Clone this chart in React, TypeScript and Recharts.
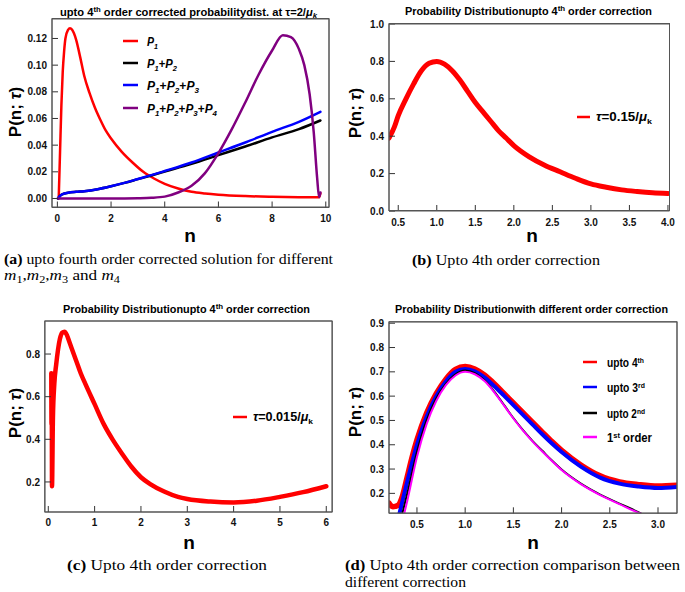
import React from 'react';
import { LineChart, Line, XAxis, YAxis } from 'recharts';

const SANS = "'Liberation Sans', Arial, Helvetica, sans-serif";
const SERIF = "'Liberation Serif', 'Times New Roman', serif";
const FRAME = '#555555';
const TICK = '#333333';
const MAJ = 6;
const MIN = 3;

// ---------- Panel (a): tau = 2/mu_k ----------
const aP1: [number, number][] = [[0.05,0],[0.1,0.035],[0.15,0.07],[0.2,0.095],[0.25,0.11],[0.3,0.12],[0.4,0.1265],[0.47,0.1277],[0.55,0.1265],[0.7,0.119],[0.85,0.106],[1.0,0.092],[1.2,0.079],[1.4,0.068],[1.6,0.059],[1.8,0.051],[2.0,0.045],[2.4,0.035],[2.8,0.027],[3.2,0.02],[3.6,0.015],[4.0,0.011],[4.5,0.0075],[5.0,0.005],[5.5,0.0037],[6.0,0.0028],[7.0,0.0018],[8.0,0.0013],[9.0,0.001],[9.75,0.0009],[9.8,0.004]];
const aP12: [number, number][] = [[0.02,0],[0.1,0.002],[0.2,0.0033],[0.4,0.0043],[0.7,0.005],[1.0,0.0055],[1.5,0.007],[2.0,0.0092],[2.5,0.0117],[3.0,0.0145],[3.5,0.0173],[4.0,0.0202],[5.0,0.026],[6.0,0.0325],[7.0,0.039],[8.0,0.0458],[9.0,0.052],[9.8,0.0585]];
const aP123: [number, number][] = [[0.02,0],[0.1,0.002],[0.2,0.0033],[0.4,0.0043],[0.7,0.005],[1.0,0.0055],[1.5,0.007],[2.0,0.0092],[2.5,0.0117],[3.0,0.0146],[3.5,0.0175],[4.0,0.0206],[5.0,0.027],[6.0,0.0345],[7.0,0.042],[8.0,0.05],[9.0,0.0575],[9.8,0.065]];
const aP1234: [number, number][] = [[0.02,0],[1.0,0],[2.0,0],[3.0,0.0002],[3.5,0.0005],[4.0,0.0014],[4.5,0.0045],[5.0,0.0095],[5.5,0.019],[6.0,0.034],[6.5,0.052],[7.0,0.072],[7.5,0.093],[8.0,0.111],[8.4,0.1225],[8.7,0.121],[9.0,0.112],[9.2,0.1],[9.4,0.078],[9.55,0.05],[9.68,0.015],[9.75,0.001],[9.8,0.0045]];

// ---------- Panel (b): tau = 0.15/mu_k ----------
const bP: [number, number][] = [[0.38,0.39],[0.45,0.45],[0.5,0.51],[0.6,0.6],[0.7,0.68],[0.8,0.75],[0.9,0.79],[1.0,0.8],[1.1,0.785],[1.2,0.75],[1.3,0.7],[1.4,0.64],[1.5,0.58],[1.6,0.53],[1.7,0.48],[1.8,0.43],[1.9,0.39],[2.0,0.35],[2.2,0.29],[2.4,0.245],[2.6,0.21],[2.8,0.175],[3.0,0.145],[3.2,0.127],[3.4,0.113],[3.6,0.104],[3.8,0.097],[4.0,0.093]];

// ---------- Panel (c): tau = 0.015/mu_k ----------
const cP: [number, number][] = [[0.065,0.71],[0.07,0.47],[0.075,0.62],[0.08,0.18],[0.1,0.5],[0.13,0.66],[0.17,0.75],[0.21,0.82],[0.25,0.87],[0.3,0.9],[0.35,0.905],[0.4,0.89],[0.45,0.86],[0.5,0.83],[0.6,0.77],[0.7,0.71],[0.8,0.66],[1.0,0.565],[1.2,0.47],[1.4,0.395],[1.6,0.33],[1.8,0.27],[2.0,0.222],[2.2,0.19],[2.5,0.155],[2.8,0.13],[3.0,0.12],[3.5,0.108],[4.0,0.104],[4.5,0.112],[5.0,0.13],[5.5,0.152],[6.0,0.18]];

// ---------- Panel (d): different orders ----------
const d4: [number, number][] = [[0.21,0.16],[0.25,0.145],[0.3,0.15],[0.35,0.19],[0.4,0.27],[0.45,0.35],[0.5,0.42],[0.6,0.53],[0.7,0.61],[0.8,0.67],[0.9,0.71],[1.0,0.722],[1.1,0.712],[1.2,0.687],[1.3,0.652],[1.4,0.612],[1.5,0.572],[1.6,0.532],[1.7,0.492],[1.8,0.452],[1.9,0.413],[2.0,0.377],[2.2,0.317],[2.4,0.272],[2.6,0.247],[2.8,0.236],[3.0,0.23],[3.2,0.233]];
const d3: [number, number][] = [[0.32,0.12],[0.4,0.25],[0.5,0.4],[0.6,0.515],[0.7,0.6],[0.8,0.66],[0.9,0.7],[1.0,0.712],[1.1,0.702],[1.2,0.677],[1.3,0.642],[1.4,0.603],[1.5,0.563],[1.6,0.523],[1.7,0.483],[1.8,0.443],[1.9,0.405],[2.0,0.37],[2.2,0.31],[2.4,0.265],[2.6,0.24],[2.8,0.228],[3.0,0.222],[3.2,0.226]];
const d2: [number, number][] = [[0.35,0.12],[0.4,0.2],[0.5,0.37],[0.6,0.5],[0.7,0.59],[0.8,0.65],[0.9,0.69],[1.0,0.705],[1.1,0.695],[1.2,0.665],[1.3,0.62],[1.4,0.565],[1.5,0.51],[1.6,0.46],[1.7,0.415],[1.8,0.375],[1.9,0.335],[2.0,0.298],[2.2,0.24],[2.4,0.195],[2.6,0.158],[2.8,0.122],[2.82,0.118]];
const d1: [number, number][] = [[0.37,0.12],[0.4,0.17],[0.5,0.35],[0.6,0.485],[0.7,0.58],[0.8,0.645],[0.9,0.685],[1.0,0.7],[1.1,0.69],[1.2,0.662],[1.3,0.617],[1.4,0.563],[1.5,0.508],[1.6,0.458],[1.7,0.413],[1.8,0.372],[1.9,0.333],[2.0,0.296],[2.2,0.238],[2.4,0.193],[2.6,0.156],[2.8,0.12],[2.82,0.117]];

// ---------- tick labels ----------
const aXTicks = [0, 2, 4, 6, 8, 10];
const aYTicks = [0, 0.02, 0.04, 0.06, 0.08, 0.1, 0.12];
const bXTicks = [0.5, 1.0, 1.5, 2.0, 2.5, 3.0, 3.5, 4.0];
const bYTicks = [0, 0.2, 0.4, 0.6, 0.8, 1.0];
const cXTicks = [0, 1, 2, 3, 4, 5, 6];
const cYTicks = [0.2, 0.4, 0.6, 0.8];
const dXTicks = [0.5, 1.0, 1.5, 2.0, 2.5, 3.0];
const dYTicks = [0.2, 0.3, 0.4, 0.5, 0.6, 0.7, 0.8, 0.9];

const toPts = (arr: [number, number][]) => arr.map(([x, y]) => ({ x, y }));

function steps(lo: number, hi: number, s: number): number[] {
  const out: number[] = [];
  const start = Math.ceil(lo / s - 1e-9);
  const end = Math.floor(hi / s + 1e-9);
  for (let i = start; i <= end; i++) out.push(+(i * s).toFixed(6));
  return out;
}

type Series = { data: [number, number][]; color: string; width: number };

type PanelProps = {
  box: [number, number, number, number];
  xDomain: [number, number];
  yDomain: [number, number];
  xMajor: number[];
  yMajor: number[];
  xMinor: number;
  yMinor: number;
  xDec: number;
  yDec: number;
  series: Series[];
};

const isMajor = (majors: number[], v: number) => majors.some((m) => Math.abs(m - v) < 1e-7);

// Major ticks drawn by Recharts' tickLine (negative size = inward); labels compensate for the inward offset.
function makeLabel(side: 'bottom' | 'left', dec: number) {
  return (props: any) => {
    const { x, y, payload } = props;
    const v = payload.value;
    if (side === 'bottom') {
      return (
        <text x={x} y={y + MAJ + 14.5} textAnchor="middle" fontFamily={SANS} fontWeight="bold" fontSize={10} fill="#111">
          {v.toFixed(dec)}
        </text>
      );
    }
    return (
      <text x={x - MAJ - 5} y={y + 3.6} textAnchor="end" fontFamily={SANS} fontWeight="bold" fontSize={10} fill="#111">
        {v.toFixed(dec)}
      </text>
    );
  };
}

function Panel(p: PanelProps) {
  const YW = 50, XH = 25, MT = 6, MR = 6, MB = 4, TH = 1, RW = 1;
  const [x0, y0, x1, y1] = p.box;
  const width = x1 - x0 + YW + MR + RW;
  const height = y1 - y0 + MT + TH + XH + MB;
  const xMinorTicks = steps(p.xDomain[0], p.xDomain[1], p.xMinor).filter((v) => !isMajor(p.xMajor, v));
  const yMinorTicks = steps(p.yDomain[0], p.yDomain[1], p.yMinor).filter((v) => !isMajor(p.yMajor, v));
  const axisLine = { stroke: FRAME, strokeWidth: 1 };
  const tl = { stroke: TICK, strokeWidth: 1 };
  const common = { type: 'number' as const, allowDataOverflow: true, interval: 0 as const, tickMargin: 0 };
  return (
    <div style={{ position: 'absolute', left: x0 - YW, top: y0 - MT - TH }}>
      <LineChart width={width} height={height} margin={{ top: MT, right: MR, bottom: MB, left: 0 }}>
        <XAxis xAxisId="b" orientation="bottom" dataKey="x" domain={p.xDomain} {...common}
          ticks={p.xMajor} tickSize={-MAJ} tickLine={tl} axisLine={axisLine}
          height={XH} tick={makeLabel('bottom', p.xDec)} />
        <YAxis yAxisId="l" orientation="left" domain={p.yDomain} {...common}
          ticks={p.yMajor} tickSize={-MAJ} tickLine={tl} axisLine={axisLine}
          width={YW} tick={makeLabel('left', p.yDec)} />
        <XAxis xAxisId="t" orientation="top" dataKey="x" domain={p.xDomain} {...common}
          ticks={p.xMajor} tickSize={-MAJ} tickLine={tl} axisLine={axisLine}
          height={TH} tick={false} />
        <YAxis yAxisId="r" orientation="right" domain={p.yDomain} {...common}
          ticks={p.yMajor} tickSize={-MAJ} tickLine={tl} axisLine={axisLine}
          width={RW} tick={false} />
        {p.series.map((s, i) => (
          <Line key={i} xAxisId="b" yAxisId="l" data={toPts(s.data)} dataKey="y" type="monotone"
            stroke={s.color} strokeWidth={s.width} dot={false} activeDot={false} isAnimationActive={false}
            strokeLinejoin="round" strokeLinecap="round" />
        ))}
      </LineChart>
      {/* minor ticks: a second chart with the same geometry */}
      <div style={{ position: 'absolute', left: 0, top: 0 }}>
        <LineChart width={width} height={height} margin={{ top: MT, right: MR, bottom: MB, left: 0 }}>
          <XAxis xAxisId="b" orientation="bottom" dataKey="x" domain={p.xDomain} {...common}
            ticks={xMinorTicks} tickSize={-MIN} tickLine={tl} axisLine={false} height={XH} tick={false} />
          <YAxis yAxisId="l" orientation="left" domain={p.yDomain} {...common}
            ticks={yMinorTicks} tickSize={-MIN} tickLine={tl} axisLine={false} width={YW} tick={false} />
          <XAxis xAxisId="t" orientation="top" dataKey="x" domain={p.xDomain} {...common}
            ticks={xMinorTicks} tickSize={-MIN} tickLine={tl} axisLine={false} height={TH} tick={false} />
          <YAxis yAxisId="r" orientation="right" domain={p.yDomain} {...common}
            ticks={yMinorTicks} tickSize={-MIN} tickLine={tl} axisLine={false} width={RW} tick={false} />
          <Line xAxisId="b" yAxisId="l" data={[]} dataKey="y" stroke="none" dot={false} isAnimationActive={false} />
        </LineChart>
      </div>
    </div>
  );
}

const B = { fontFamily: SANS, fontWeight: 'bold' as const };

const BOXES: [number, number, number, number][] = [
  [52, 18.5, 329, 207],
  [389, 23.5, 669.5, 210.5],
  [44.7, 321, 332, 512],
  [389, 321.7, 677, 513],
];

function Overlay() {
  return (
    <svg width={685} height={592} style={{ position: 'absolute', left: 0, top: 0, pointerEvents: 'none' }}>
      {/* frames */}
      {BOXES.map(([x0, y0, x1, y1], i) => (
        <rect key={'fr' + i} x={x0} y={y0} width={x1 - x0} height={y1 - y0} fill="none" stroke={FRAME} strokeWidth={1} />
      ))}
      {/* titles */}
      <text x={188.5} y={16} textAnchor="middle" fontSize={11.5} textLength={257} lengthAdjust="spacingAndGlyphs" {...B}>
        upto 4<tspan dy={-4} fontSize={8}>th</tspan><tspan dy={4}> order corrected probabilitydist. at τ=2/</tspan><tspan fontStyle="italic">μ</tspan><tspan dy={2} fontSize={8} fontStyle="italic">k</tspan>
      </text>
      <text x={528.5} y={15} textAnchor="middle" fontSize={11} textLength={247} lengthAdjust="spacingAndGlyphs" {...B}>
        Probability Distributionupto 4<tspan dy={-4} fontSize={8}>th</tspan><tspan dy={4}>  order correction</tspan>
      </text>
      <text x={186.5} y={313} textAnchor="middle" fontSize={11} textLength={247} lengthAdjust="spacingAndGlyphs" {...B}>
        Probability Distributionupto 4<tspan dy={-4} fontSize={8}>th</tspan><tspan dy={4}> order correction</tspan>
      </text>
      <text x={531.5} y={313} textAnchor="middle" fontSize={11} textLength={273} lengthAdjust="spacingAndGlyphs" {...B}>
        Probability Distributionwith different order correction
      </text>

      {/* y labels */}
      {[[21, 112], [361, 113], [21, 413], [361, 412]].map(([x, y], i) => (
        <text key={'yl' + i} x={x} y={y} transform={`rotate(-90 ${x} ${y})`} textAnchor="middle" fontSize={17} {...B}>
          P(n; <tspan fontStyle="italic">τ</tspan>)
        </text>
      ))}
      {/* x labels */}
      {[[190, 242], [532, 242], [189, 549], [533, 549]].map(([x, y], i) => (
        <text key={'xl' + i} x={x} y={y} textAnchor="middle" fontSize={19} {...B}>n</text>
      ))}

      {/* legend (a) */}
      {[
        { y: 41, c: '#ff0000', n: 1, w: 11 },
        { y: 63, c: '#000000', n: 2, w: 30 },
        { y: 85, c: '#0000ff', n: 3, w: 52 },
        { y: 108, c: '#800080', n: 4, w: 70 },
      ].map((e, i) => (
        <g key={'la' + i}>
          <line x1={123} x2={138} y1={e.y} y2={e.y} stroke={e.c} strokeWidth={2.5} />
          <text x={147} y={e.y + 4.5} fontSize={12} fontStyle="italic" textLength={e.w} lengthAdjust="spacingAndGlyphs" {...B}>
            {Array.from({ length: e.n }).map((_, k) => (
              <React.Fragment key={k}>
                {k > 0 && <tspan dy={-3} fontStyle="normal">+</tspan>}
                <tspan>P</tspan>
                <tspan dy={3} fontSize={8}>{k + 1}</tspan>
              </React.Fragment>
            ))}
          </text>
        </g>
      ))}

      {/* legend (b) */}
      <line x1={577} x2={590} y1={117} y2={117} stroke="#ff0000" strokeWidth={2.5} />
      <text x={596} y={121} fontSize={12} textLength={56} lengthAdjust="spacingAndGlyphs" {...B}>
        <tspan fontStyle="italic">τ</tspan>=0.15/<tspan fontStyle="italic">μ</tspan><tspan dy={3} fontSize={8}>k</tspan>
      </text>

      {/* legend (c) */}
      <line x1={233} x2={247} y1={417} y2={417} stroke="#ff0000" strokeWidth={2.5} />
      <text x={253} y={421} fontSize={12} textLength={60} lengthAdjust="spacingAndGlyphs" {...B}>
        <tspan fontStyle="italic">τ</tspan>=0.015/<tspan fontStyle="italic">μ</tspan><tspan dy={3} fontSize={8}>k</tspan>
      </text>

      {/* legend (d) */}
      {[
        { y: 362, c: '#ff0000', pre: 'upto 4', sup: 'th', post: '', w: 37 },
        { y: 387, c: '#0000ff', pre: 'upto 3', sup: 'rd', post: '', w: 38 },
        { y: 413, c: '#000000', pre: 'upto 2', sup: 'nd', post: '', w: 38 },
        { y: 437, c: '#ff00ff', pre: '1', sup: 'st', post: ' order', w: 45 },
      ].map((e, i) => (
        <g key={'ld' + i}>
          <line x1={583} x2={597} y1={e.y} y2={e.y} stroke={e.c} strokeWidth={2.5} />
          <text x={607} y={e.y + 4.5} fontSize={12} textLength={e.w} lengthAdjust="spacingAndGlyphs" {...B}>
            {e.pre}<tspan dy={-4} fontSize={8}>{e.sup}</tspan><tspan dy={4}>{e.post}</tspan>
          </text>
        </g>
      ))}

      {/* captions */}
      <text x={4} y={264} fontFamily={SERIF} fontSize={14} textLength={329} lengthAdjust="spacingAndGlyphs">
        <tspan fontWeight="bold">(a)</tspan> upto fourth order corrected solution for different
      </text>
      <text x={4} y={280} fontFamily={SERIF} fontSize={14} textLength={116} lengthAdjust="spacingAndGlyphs">
        <tspan fontStyle="italic">m</tspan><tspan dy={3} fontSize={10}>1</tspan><tspan dy={-3}>,</tspan>
        <tspan fontStyle="italic">m</tspan><tspan dy={3} fontSize={10}>2</tspan><tspan dy={-3}>,</tspan>
        <tspan fontStyle="italic">m</tspan><tspan dy={3} fontSize={10}>3</tspan><tspan dy={-3}> and </tspan>
        <tspan fontStyle="italic">m</tspan><tspan dy={3} fontSize={10}>4</tspan>
      </text>
      <text x={412} y={265} fontFamily={SERIF} fontSize={14} textLength={188} lengthAdjust="spacingAndGlyphs">
        <tspan fontWeight="bold">(b)</tspan>  Upto 4th order correction
      </text>
      <text x={67} y={570} fontFamily={SERIF} fontSize={14} textLength={200} lengthAdjust="spacingAndGlyphs">
        <tspan fontWeight="bold">(c)</tspan>  Upto 4th order correction
      </text>
      <text x={345} y={570} fontFamily={SERIF} fontSize={14} textLength={335} lengthAdjust="spacingAndGlyphs">
        <tspan fontWeight="bold">(d)</tspan>  Upto 4th order correction comparison between
      </text>
      <text x={345} y={587} fontFamily={SERIF} fontSize={14} textLength={121} lengthAdjust="spacingAndGlyphs">
        different correction
      </text>
    </svg>
  );
}

export default function App() {
  return (
    <div style={{ position: 'absolute', left: 0, top: 0, width: 685, height: 592, background: '#fff', overflow: 'hidden' }}>
      <Panel box={BOXES[0]} xDomain={[-0.2, 10.12]} yDomain={[-0.00675, 0.1346]}
        xMajor={aXTicks} yMajor={aYTicks} xMinor={0.5} yMinor={0.005} xDec={0} yDec={2}
        series={[
          { data: aP1, color: '#ff0000', width: 2.5 },
          { data: aP12, color: '#000000', width: 2.5 },
          { data: aP123, color: '#0000ff', width: 2.5 },
          { data: aP1234, color: '#800080', width: 2.5 },
        ]} />
      <Panel box={BOXES[1]} xDomain={[0.38, 4.02]} yDomain={[0, 1.0]}
        xMajor={bXTicks} yMajor={bYTicks} xMinor={0.1} yMinor={0.05} xDec={1} yDec={1}
        series={[{ data: bP, color: '#ff0000', width: 5 }]} />
      <Panel box={BOXES[2]} xDomain={[-0.071, 6.13]} yDomain={[0.059, 0.955]}
        xMajor={cXTicks} yMajor={cYTicks} xMinor={0.2} yMinor={0.05} xDec={0} yDec={1}
        series={[{ data: cP, color: '#ff0000', width: 4.5 }]} />
      <Panel box={BOXES[3]} xDomain={[0.21, 3.197]} yDomain={[0.118, 0.905]}
        xMajor={dXTicks} yMajor={dYTicks} xMinor={0.1} yMinor={0.05} xDec={1} yDec={1}
        series={[
          { data: d4, color: '#ff0000', width: 5.5 },
          { data: d3, color: '#0000ff', width: 4 },
          { data: d2, color: '#000000', width: 2 },
          { data: d1, color: '#ff00ff', width: 2 },
        ]} />
      <Overlay />
    </div>
  );
}
